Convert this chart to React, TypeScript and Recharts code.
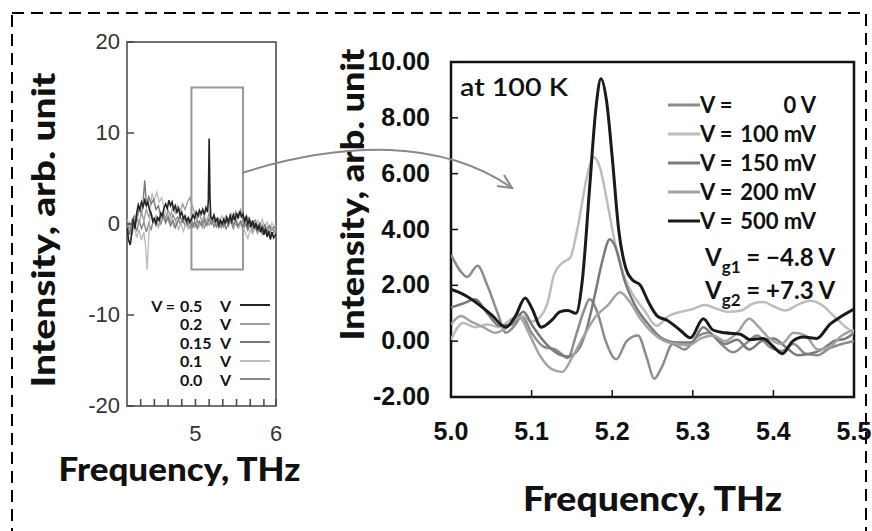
import { LineChart, Line, XAxis, YAxis, ReferenceArea, Legend } from 'recharts';

type Pt = { f: number; v: number };
const pts = (rows: number[][]): Pt[] => rows.map(([f, v]) => ({ f, v }));

// ---- overview panel (left), intensity vs frequency, 4.15 - 6 THz
const ovYTicks = [20, 10, 0, -10, -20];
const ovYTicksRight = [10, 0, -10];
const ovXTicks = [4.32, 4.49, 4.66, 4.83, 5, 5.17, 5.34, 5.51, 5.68, 5.85, 6];
const ovXLabels = [5, 6];

const ov00 = pts([[4.15,-1.5],[4.18,-0.3],[4.21,-1.2],[4.24,0.1],[4.27,-0.8],[4.3,0.4],[4.33,-0.5],[4.36,0.2],[4.39,-0.9],[4.42,0.1],[4.45,-0.6],[4.48,0.5],[4.51,-0.2],[4.54,0.6],[4.57,0.0],[4.6,0.8],[4.63,0.1],[4.66,0.9],[4.69,0.3],[4.72,1.0],[4.75,0.4],[4.78,0.8],[4.81,0.0],[4.84,0.6],[4.87,-0.2],[4.9,0.4],[4.93,-0.4],[4.96,0.2],[4.99,-0.3],[5.02,0.4],[5.05,-0.2],[5.08,0.3],[5.11,-0.4],[5.14,0.2],[5.17,-0.1],[5.2,0.5],[5.23,-0.3],[5.26,0.3],[5.29,-0.4],[5.32,0.2],[5.35,-0.3],[5.38,0.4],[5.41,-0.2],[5.44,0.3],[5.47,-0.5],[5.5,0.1],[5.53,-0.4],[5.56,0.2],[5.59,-0.6],[5.62,0.0],[5.65,-0.7],[5.68,-0.1],[5.71,-0.9],[5.74,-0.3],[5.77,-1.0],[5.8,-0.4],[5.83,-1.1],[5.86,-0.5],[5.89,-1.3],[5.92,-0.6],[5.95,-1.2],[5.98,-0.7],[6.0,-1.0]]);
const ov01 = pts([[4.15,-0.8],[4.18,0.3],[4.21,-1.0],[4.24,-0.2],[4.27,-1.5],[4.3,-0.6],[4.33,-1.8],[4.36,-0.9],[4.38,-2.4],[4.4,-5.0],[4.42,-1.5],[4.44,1.8],[4.46,3.4],[4.49,2.6],[4.52,3.5],[4.55,2.4],[4.58,2.9],[4.61,1.8],[4.64,1.0],[4.67,0.2],[4.7,0.6],[4.73,-0.3],[4.76,0.3],[4.79,-0.6],[4.82,0.1],[4.85,-0.8],[4.88,0.0],[4.91,-0.5],[4.94,0.3],[4.97,-0.4],[5.0,0.2],[5.03,-0.6],[5.06,0.1],[5.09,-0.5],[5.12,0.3],[5.15,-0.2],[5.18,0.8],[5.21,0.1],[5.24,0.5],[5.27,-0.1],[5.3,0.4],[5.33,0.9],[5.36,0.2],[5.39,0.7],[5.42,0.0],[5.45,0.6],[5.48,-0.2],[5.51,0.5],[5.54,-0.4],[5.57,0.3],[5.6,-0.5],[5.63,-1.2],[5.65,-1.6],[5.68,-0.7],[5.71,-1.1],[5.74,-0.3],[5.77,0.4],[5.8,-0.2],[5.83,0.5],[5.86,-0.3],[5.89,0.2],[5.92,-0.5],[5.95,0.1],[5.98,-0.4],[6.0,-0.2]]);
const ov015 = pts([[4.15,0.2],[4.18,-1.2],[4.21,0.4],[4.24,0.9],[4.27,0.3],[4.3,1.8],[4.33,1.0],[4.35,2.5],[4.37,4.8],[4.39,2.2],[4.42,3.0],[4.45,2.2],[4.48,2.7],[4.51,1.6],[4.54,2.0],[4.57,0.8],[4.6,1.2],[4.63,0.2],[4.66,0.7],[4.69,-0.2],[4.72,0.4],[4.75,-0.4],[4.78,0.3],[4.81,0.8],[4.84,0.2],[4.87,0.6],[4.9,-0.1],[4.93,0.5],[4.96,-0.3],[4.99,0.2],[5.02,-0.4],[5.05,0.3],[5.08,-0.2],[5.11,0.5],[5.14,-0.1],[5.17,0.6],[5.2,0.0],[5.23,0.4],[5.26,-0.3],[5.29,0.2],[5.32,-0.4],[5.35,0.1],[5.38,-0.5],[5.41,0.0],[5.44,0.5],[5.47,-0.1],[5.5,0.4],[5.53,-0.2],[5.56,0.3],[5.59,-0.3],[5.62,0.2],[5.65,-0.4],[5.68,0.3],[5.71,-0.2],[5.74,0.4],[5.77,-0.3],[5.8,0.1],[5.83,-0.6],[5.86,-0.1],[5.89,-0.8],[5.92,-0.2],[5.95,-0.7],[5.98,-0.3],[6.0,-0.5]]);
const ov02 = pts([[4.15,0.6],[4.18,-0.8],[4.21,0.2],[4.24,-0.6],[4.27,0.9],[4.3,0.1],[4.33,1.2],[4.36,0.4],[4.39,1.6],[4.42,0.8],[4.45,1.3],[4.48,0.2],[4.51,0.9],[4.54,-0.3],[4.57,0.5],[4.6,1.3],[4.63,0.6],[4.66,1.5],[4.69,0.9],[4.72,1.9],[4.75,1.2],[4.78,2.0],[4.81,1.4],[4.84,2.2],[4.87,1.6],[4.9,2.4],[4.93,2.9],[4.96,2.0],[4.99,1.2],[5.02,0.5],[5.05,1.1],[5.08,0.3],[5.11,0.9],[5.14,0.2],[5.17,1.2],[5.2,0.4],[5.23,0.8],[5.26,0.1],[5.29,0.6],[5.32,-0.2],[5.35,0.4],[5.38,0.9],[5.41,0.2],[5.44,1.1],[5.47,0.5],[5.5,1.4],[5.53,0.7],[5.56,1.6],[5.59,0.9],[5.62,0.2],[5.65,0.8],[5.68,0.1],[5.71,-0.4],[5.74,0.3],[5.77,-0.2],[5.8,-0.8],[5.83,-0.1],[5.86,-0.9],[5.89,-0.3],[5.92,-1.0],[5.95,-0.4],[5.98,-0.9],[6.0,-0.6]]);
const ov05 = pts([[4.15,-0.4],[4.17,-1.8],[4.19,-2.3],[4.21,-0.9],[4.23,0.6],[4.25,-0.5],[4.27,1.2],[4.29,2.1],[4.31,1.6],[4.33,2.4],[4.35,1.9],[4.37,2.6],[4.39,2.0],[4.41,2.4],[4.43,1.5],[4.45,1.1],[4.47,0.3],[4.49,0.6],[4.51,0.1],[4.53,0.7],[4.55,0.4],[4.57,1.2],[4.59,0.9],[4.61,1.8],[4.63,2.2],[4.65,1.7],[4.67,2.6],[4.69,2.0],[4.71,2.4],[4.73,1.6],[4.75,2.0],[4.77,1.3],[4.79,1.7],[4.81,0.9],[4.83,1.3],[4.85,0.6],[4.87,0.9],[4.89,0.3],[4.91,0.7],[4.93,0.2],[4.95,0.5],[4.97,1.0],[4.99,0.6],[5.01,1.3],[5.03,0.9],[5.05,1.5],[5.07,1.1],[5.09,1.6],[5.11,1.0],[5.13,1.8],[5.15,1.3],[5.16,2.6],[5.17,9.4],[5.18,3.0],[5.19,0.8],[5.21,0.5],[5.23,1.0],[5.25,0.3],[5.27,0.6],[5.29,-0.1],[5.31,0.4],[5.33,0.0],[5.35,0.5],[5.37,0.1],[5.39,0.7],[5.41,0.2],[5.43,0.9],[5.45,0.3],[5.47,1.0],[5.49,0.4],[5.51,1.2],[5.53,0.6],[5.55,1.4],[5.57,0.8],[5.59,1.1],[5.61,0.3],[5.63,0.8],[5.65,0.0],[5.67,0.5],[5.69,-0.3],[5.71,0.4],[5.73,-0.5],[5.75,0.1],[5.77,-0.7],[5.79,-0.1],[5.81,-0.9],[5.83,-0.3],[5.85,-1.2],[5.87,-0.5],[5.89,-1.4],[5.91,-0.8],[5.93,-1.7],[5.95,-0.9],[5.97,-1.5],[6.0,-1.1]]);

// ---- zoomed panel (right), 5.0 - 5.5 THz at 100 K
const zmXTicks = [5.0, 5.1, 5.2, 5.3, 5.4, 5.5];
const zmYTicks = [-2, 0, 2, 4, 6, 8, 10];

const zm0 = pts([[5.000,3.1],[5.012,2.5],[5.020,2.3],[5.033,2.7],[5.045,2.0],[5.058,1.0],[5.068,0.3],[5.080,0.6],[5.088,0.9],[5.100,0.3],[5.115,-0.2],[5.130,-0.3],[5.145,-0.6],[5.155,0.2],[5.165,1.1],[5.172,1.5],[5.182,1.0],[5.192,0.0],[5.205,-0.65],[5.218,0.0],[5.232,0.2],[5.243,-0.6],[5.252,-1.35],[5.262,-0.9],[5.275,-0.1],[5.290,-0.3],[5.305,0.15],[5.320,0.3],[5.335,-0.1],[5.350,-0.4],[5.365,-0.1],[5.380,0.2],[5.395,-0.2],[5.410,-0.35],[5.425,-0.1],[5.440,-0.45],[5.455,-0.5],[5.470,-0.25],[5.485,-0.1],[5.500,0.0]]);
const zm100 = pts([[5.000,0.05],[5.015,0.65],[5.030,0.5],[5.045,0.6],[5.060,0.5],[5.075,0.8],[5.090,0.9],[5.100,0.7],[5.110,0.85],[5.120,1.4],[5.128,2.4],[5.138,2.8],[5.148,3.0],[5.158,4.2],[5.168,5.8],[5.177,6.6],[5.185,6.2],[5.195,4.8],[5.205,3.3],[5.215,2.3],[5.225,1.7],[5.240,1.1],[5.255,0.55],[5.270,0.9],[5.285,1.05],[5.300,1.15],[5.315,1.3],[5.330,1.15],[5.345,1.05],[5.360,1.1],[5.375,1.35],[5.388,1.4],[5.400,1.25],[5.415,1.1],[5.430,1.3],[5.445,1.45],[5.460,1.3],[5.475,0.9],[5.490,0.5],[5.500,0.3]]);
const zm150 = pts([[5.000,1.2],[5.015,1.35],[5.030,1.5],[5.045,1.0],[5.060,0.55],[5.075,0.6],[5.090,1.05],[5.100,0.6],[5.115,0.0],[5.130,-0.4],[5.145,-0.55],[5.158,-0.3],[5.168,0.4],[5.178,1.6],[5.188,2.9],[5.197,3.65],[5.205,3.3],[5.215,2.2],[5.228,1.3],[5.245,0.6],[5.262,0.1],[5.280,-0.05],[5.298,-0.05],[5.313,0.5],[5.325,0.2],[5.340,-0.1],[5.355,0.05],[5.370,-0.3],[5.385,0.0],[5.400,0.1],[5.415,-0.2],[5.430,-0.5],[5.445,-0.45],[5.460,-0.3],[5.475,0.0],[5.490,0.1],[5.500,0.3]]);
const zm200 = pts([[5.000,0.6],[5.012,0.9],[5.025,0.7],[5.040,0.5],[5.055,0.3],[5.070,0.5],[5.085,0.85],[5.098,0.2],[5.110,-0.5],[5.125,-1.0],[5.138,-1.1],[5.150,-0.6],[5.165,0.2],[5.180,0.9],[5.195,1.3],[5.210,1.75],[5.222,1.4],[5.235,0.8],[5.250,0.3],[5.265,0.0],[5.280,-0.1],[5.295,-0.15],[5.310,0.1],[5.325,0.2],[5.340,0.0],[5.355,0.3],[5.370,0.8],[5.382,0.5],[5.395,0.1],[5.410,-0.1],[5.425,0.3],[5.440,0.2],[5.455,-0.3],[5.470,-0.2],[5.485,0.2],[5.500,0.4]]);
const zm500 = pts([[5.000,1.85],[5.010,1.75],[5.020,1.6],[5.035,1.3],[5.050,0.95],[5.068,0.5],[5.080,0.9],[5.092,1.55],[5.100,1.2],[5.112,0.5],[5.125,0.75],[5.135,1.05],[5.145,1.1],[5.155,1.0],[5.163,2.2],[5.172,5.5],[5.180,8.4],[5.186,9.4],[5.193,8.6],[5.200,6.6],[5.208,4.0],[5.217,2.6],[5.225,2.2],[5.235,2.0],[5.245,1.4],[5.256,0.9],[5.268,0.75],[5.284,0.4],[5.297,0.12],[5.313,0.8],[5.325,0.4],[5.340,0.3],[5.359,0.25],[5.371,0.05],[5.387,0.1],[5.400,-0.2],[5.411,-0.45],[5.424,0.0],[5.437,0.15],[5.454,0.1],[5.470,0.6],[5.485,0.9],[5.500,1.15]]);

const ovOrder = ['0.5', '0.2', '0.15', '0.1', '0.0'];
const zmOrder = ['0 V', '100 mV', '150 mV', '200 mV', '500 mV'];

const TITLE_FONT = 'Lato, "Open Sans", sans-serif';
const NARROW = '"Liberation Sans Narrow", "Arial Narrow", sans-serif';

function AxisTitle({ viewBox, text, dx = 0, dy = 0, vertical = false, length, size = 32 }: any) {
  const cx = viewBox.x + viewBox.width / 2 + dx;
  const cy = viewBox.y + viewBox.height / 2 + dy;
  return (
    <text
      x={cx}
      y={cy}
      textAnchor="middle"
      dominantBaseline="central"
      transform={vertical ? `rotate(-90 ${cx} ${cy})` : undefined}
      textLength={length}
      lengthAdjust="spacingAndGlyphs"
      style={{ fontFamily: TITLE_FONT, fontWeight: 900, fontSize: size, fill: '#111' }}
    >
      {text}
    </text>
  );
}

// overview ticks: drawn inside the frame
const OvLeftTick = ({ x, y, payload }: any) => (
  <g>
    <line x1={x + 7} x2={x + 14} y1={y} y2={y} stroke="#444" strokeWidth={1.5} />
    <text x={x} y={y + 7} textAnchor="end" style={{ fontFamily: 'Liberation Sans, Arial', fontSize: 22, fill: '#333' }}>
      {payload.value}
    </text>
  </g>
);
const OvRightTick = ({ x, y }: any) => (
  <line x1={x - 11} x2={x} y1={y} y2={y} stroke="#444" strokeWidth={1.5} />
);
const OvBottomTick = ({ x, y, payload }: any) => (
  <g>
    <line x1={x} x2={x} y1={y} y2={y - 7} stroke="#444" strokeWidth={1.5} />
    {ovXLabels.includes(payload.value) && (
      <text x={x} y={y + 35} textAnchor="middle" style={{ fontFamily: 'Liberation Sans, Arial', fontSize: 22, fill: '#333' }}>
        {payload.value}
      </text>
    )}
  </g>
);
const OvTopTick = ({ x, y }: any) => (
  <line x1={x} x2={x} y1={y} y2={y + 7} stroke="#444" strokeWidth={1.5} />
);

const ZmLeftTick = ({ x, y, payload }: any) => (
  <g>
    <line x1={x + 21} x2={x + 28} y1={y} y2={y} stroke="#111" strokeWidth={1.5} />
    <text x={x} y={y + 8} textAnchor="end" style={{ fontFamily: NARROW, fontWeight: 700, fontSize: 25, fill: '#111' }}>
      {payload.value.toFixed(2)}
    </text>
  </g>
);
const ZmBottomTick = ({ x, y, payload }: any) => (
  <g>
    <line x1={x} x2={x} y1={y} y2={y - 7} stroke="#111" strokeWidth={1.5} />
    <text x={x} y={y + 43} textAnchor="middle" style={{ fontFamily: NARROW, fontWeight: 700, fontSize: 25, fill: '#111' }}>
      {payload.value.toFixed(1)}
    </text>
  </g>
);

const OvLegend = ({ payload }: any) => {
  const items = [...(payload ?? [])].sort((a: any, b: any) => ovOrder.indexOf(a.value) - ovOrder.indexOf(b.value));
  return (
    <div style={{ fontFamily: TITLE_FONT, fontWeight: 700, fontSize: 16, color: '#111', whiteSpace: 'nowrap' }}>
      {items.map((e: any, i: number) => (
        <div key={e.value} style={{ display: 'flex', alignItems: 'center', height: 18.5 }}>
          <span style={{ width: 25, textAlign: 'right' }}>{i === 0 ? 'V =' : ''}</span>
          <span style={{ width: 40, paddingLeft: 5 }}>{e.value}</span>
          <span style={{ width: 12 }}>V</span>
          <svg width={38} height={6}>
            <line x1={8} x2={38} y1={3} y2={3} stroke={e.color} strokeWidth={2} />
          </svg>
        </div>
      ))}
    </div>
  );
};

const ZmLegend = ({ payload }: any) => {
  const items = [...(payload ?? [])].sort((a: any, b: any) => zmOrder.indexOf(a.value) - zmOrder.indexOf(b.value));
  return (
    <div style={{ fontFamily: TITLE_FONT, fontWeight: 700, fontSize: 22, color: '#111', whiteSpace: 'nowrap', width: 150 }}>
      {items.map((e: any) => (
        <div key={e.value} style={{ display: 'flex', alignItems: 'center', height: 29 }}>
          <svg width={32} height={6} style={{ flex: 'none' }}>
            <line x1={0} x2={32} y1={3} y2={3} stroke={e.color} strokeWidth={3} />
          </svg>
          <span style={{ width: 40, flex: 'none' }}>V =</span>
          <span style={{ width: 76, flex: 'none', textAlign: 'right' }}>{e.value}</span>
        </div>
      ))}
    </div>
  );
};

export default function App() {
  return (
    <div style={{ position: 'absolute', left: 0, top: 0, width: 872, height: 531, overflow: 'hidden', background: '#fff' }}>
      <div style={{ position: 'absolute', left: 0, top: 0 }}>
        <LineChart width={300} height={531} margin={{ top: 42, right: 24, bottom: 0, left: 0 }}>
          <XAxis
            dataKey="f"
            type="number"
            domain={[4.15, 6]}
            allowDataOverflow
            ticks={ovXTicks}
            height={125}
            axisLine={false}
            tickLine={false}
            tickSize={0}
            tickMargin={0}
            tick={<OvBottomTick />}
            interval={0}
            label={<AxisTitle text="Frequency, THz" dx={-22} dy={0} length={242} />}
          />
          <XAxis xAxisId="t" orientation="top" dataKey="f" type="number" domain={[4.15, 6]} allowDataOverflow ticks={ovXTicks} height={0} axisLine={false} tickLine={false} tickSize={0} tickMargin={0} tick={<OvTopTick />} interval={0} />
          <YAxis
            type="number"
            domain={[-20, 20]}
            ticks={ovYTicks}
            width={127}
            axisLine={false}
            tickLine={false}
            tickSize={0}
            tickMargin={7}
            tick={<OvLeftTick />}
            interval={0}
            label={<AxisTitle text="Intensity, arb. unit" vertical dx={-21} dy={6} length={315} />}
          />
          <YAxis yAxisId="r" orientation="right" type="number" domain={[-20, 20]} ticks={ovYTicksRight} width={0} axisLine={false} tickLine={false} tickSize={0} tickMargin={0} tick={<OvRightTick />} interval={0} />
          <ReferenceArea x1={4.15} x2={6} y1={-20} y2={20} fill="none" stroke="#444" strokeWidth={1.5} />
          <ReferenceArea x1={4.95} x2={5.59} y1={-5} y2={15} fill="none" stroke="#999" strokeWidth={2} />
          <Line data={ov00} dataKey="v" name="0.0" type="linear" stroke="#888" strokeWidth={1.4} dot={false} isAnimationActive={false} />
          <Line data={ov01} dataKey="v" name="0.1" type="linear" stroke="#bdbdbd" strokeWidth={1.4} dot={false} isAnimationActive={false} />
          <Line data={ov015} dataKey="v" name="0.15" type="linear" stroke="#7a7a7a" strokeWidth={1.4} dot={false} isAnimationActive={false} />
          <Line data={ov02} dataKey="v" name="0.2" type="linear" stroke="#9e9e9e" strokeWidth={1.4} dot={false} isAnimationActive={false} />
          <Line data={ov05} dataKey="v" name="0.5" type="linear" stroke="#222" strokeWidth={1.6} dot={false} isAnimationActive={false} />
          <Legend
            layout="vertical"
            align="center"
            verticalAlign="middle"
            content={<OvLegend />}
            wrapperStyle={{ left: 150, top: 296, width: 'auto', height: 'auto' }}
          />
        </LineChart>
      </div>

      <div style={{ position: 'absolute', left: 300, top: 0 }}>
        <LineChart width={572} height={531} margin={{ top: 62, right: 18, bottom: 0, left: 0 }}>
          <XAxis
            dataKey="f"
            type="number"
            domain={[5, 5.5]}
            allowDataOverflow
            ticks={zmXTicks}
            height={134}
            axisLine={false}
            tickLine={false}
            tickSize={0}
            tickMargin={0}
            tick={<ZmBottomTick />}
            interval={0}
            label={<AxisTitle text="Frequency, THz" dx={0} dy={33} length={259} size={34} />}
          />
          <YAxis
            type="number"
            domain={[-2, 10]}
            ticks={zmYTicks}
            width={151}
            axisLine={false}
            tickLine={false}
            tickSize={0}
            tickMargin={21}
            tick={<ZmLeftTick />}
            interval={0}
            label={<AxisTitle text="Intensity, arb. unit" vertical dx={-25} dy={-35} length={292} size={33} />}
          />
          <ReferenceArea x1={5} x2={5.5} y1={-2} y2={10} fill="none" stroke="#111" strokeWidth={2.5} />
          <Line data={zm0} dataKey="v" name="0 V" type="monotone" stroke="#8c8c8c" strokeWidth={2.5} dot={false} isAnimationActive={false} />
          <Line data={zm100} dataKey="v" name="100 mV" type="monotone" stroke="#bdbdbd" strokeWidth={2.5} dot={false} isAnimationActive={false} />
          <Line data={zm150} dataKey="v" name="150 mV" type="monotone" stroke="#7a7a7a" strokeWidth={2.5} dot={false} isAnimationActive={false} />
          <Line data={zm200} dataKey="v" name="200 mV" type="monotone" stroke="#a3a3a3" strokeWidth={2.5} dot={false} isAnimationActive={false} />
          <Line data={zm500} dataKey="v" name="500 mV" type="monotone" stroke="#1a1a1a" strokeWidth={3} dot={false} isAnimationActive={false} />
          <Legend
            layout="vertical"
            align="center"
            verticalAlign="middle"
            content={<ZmLegend />}
            wrapperStyle={{ left: 368, top: 90, width: 150, height: 'auto' }}
          />
        </LineChart>
      </div>

      <svg width={872} height={531} style={{ position: 'absolute', left: 0, top: 0, pointerEvents: 'none' }}>
        <rect x={12} y={13} width={854} height={540} fill="none" stroke="#000" strokeWidth={2} strokeDasharray="12 7" />
        <path d="M242 173 Q320 148 390 150 Q462 153 512 188" fill="none" stroke="#888" strokeWidth={2} />
        <path d="M497 186 L512 188 L504 175" fill="none" stroke="#888" strokeWidth={2} />
        <text x={460} y={96} textLength={108} lengthAdjust="spacingAndGlyphs" style={{ fontFamily: TITLE_FONT, fontWeight: 600, fontSize: 25, fill: '#111' }}>
          at 100 K
        </text>
        <text x={705} y={266} style={{ fontFamily: TITLE_FONT, fontWeight: 700, fontSize: 24, fill: '#111' }}>
          V<tspan fontSize={17} dy={7}>g1</tspan><tspan dy={-7}> = −4.8 V</tspan>
        </text>
        <text x={705} y={299} style={{ fontFamily: TITLE_FONT, fontWeight: 700, fontSize: 24, fill: '#111' }}>
          V<tspan fontSize={17} dy={7}>g2</tspan><tspan dy={-7}> = +7.3 V</tspan>
        </text>
      </svg>
    </div>
  );
}
